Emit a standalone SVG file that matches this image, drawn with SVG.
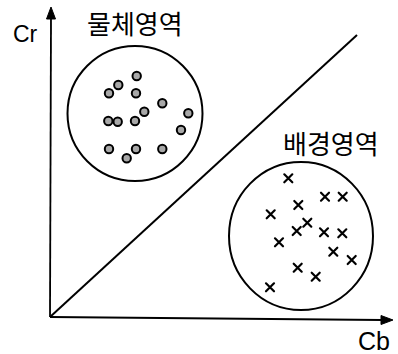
<svg xmlns="http://www.w3.org/2000/svg" width="398" height="354" viewBox="0 0 398 354">
<style>
.ln{stroke:#000;stroke-width:1.8;fill:none}
.ah{fill:#000;stroke:#000;stroke-width:1}
.reg{stroke:#000;stroke-width:2;fill:none}
.dot{stroke:#000;stroke-width:2;fill:#a8a8a8}
.x{stroke:#000;stroke-width:2.2;stroke-linecap:round}
.lat{font-family:"Liberation Sans",Arial,sans-serif;fill:#000}
.kr{font-family:"Noto Sans CJK KR","Noto Sans",sans-serif;fill:#000}
</style>
<defs>
<circle id="d" r="4.2" class="dot"/>
<path id="c" d="M-4,-4 L4,4 M4,-4 L-4,4" class="x"/>
</defs>
<rect width="398" height="354" fill="#fff"/>
<g id="connectors">
<path class="ln" d="M50,317 L51,18"/>
<path class="ah" d="M51,7 L55.5,19 L46.5,19 Z"/>
<path class="ln" d="M50,317 L382,320"/>
<path class="ah" d="M393,320 L381,315.5 L381,324.5 Z"/>
<path class="ln" d="M50,317 L357,35" style="stroke-width:2"/>
</g>
<g id="axis-cr"><text class="lat" x="13" y="42" font-size="23">Cr</text></g>
<g id="axis-cb"><text class="lat" x="358" y="350" font-size="25">Cb</text></g>
<g id="object-region">
<circle class="reg" cx="135" cy="113.5" r="67.5"/>
<text class="kr" x="87" y="34" font-size="26">물체영역</text>
<use href="#d" x="136.7" y="76"/>
<use href="#d" x="118.3" y="85"/>
<use href="#d" x="109" y="93.3"/>
<use href="#d" x="136" y="93.3"/>
<use href="#d" x="162.3" y="103.3"/>
<use href="#d" x="144.3" y="111.7"/>
<use href="#d" x="188.3" y="113.3"/>
<use href="#d" x="108.3" y="121"/>
<use href="#d" x="117.7" y="121.7"/>
<use href="#d" x="135" y="121"/>
<use href="#d" x="181" y="130"/>
<use href="#d" x="109" y="149"/>
<use href="#d" x="136" y="149"/>
<use href="#d" x="162.3" y="149"/>
<use href="#d" x="126.7" y="158.3"/>
</g>
<g id="background-region">
<ellipse class="reg" cx="301" cy="236" rx="72" ry="74"/>
<text class="kr" x="283" y="154" font-size="26">배경영역</text>
<use href="#c" x="288.3" y="178.3"/>
<use href="#c" x="325" y="196.7"/>
<use href="#c" x="342.7" y="196.7"/>
<use href="#c" x="298.3" y="205"/>
<use href="#c" x="270.7" y="214.3"/>
<use href="#c" x="307.3" y="222.7"/>
<use href="#c" x="296.7" y="231"/>
<use href="#c" x="324" y="232.3"/>
<use href="#c" x="342.3" y="233.3"/>
<use href="#c" x="279" y="242.3"/>
<use href="#c" x="333.3" y="251.7"/>
<use href="#c" x="351.7" y="260"/>
<use href="#c" x="297.7" y="267.7"/>
<use href="#c" x="315.7" y="276.7"/>
<use href="#c" x="270" y="287.3"/>
</g>
</svg>
